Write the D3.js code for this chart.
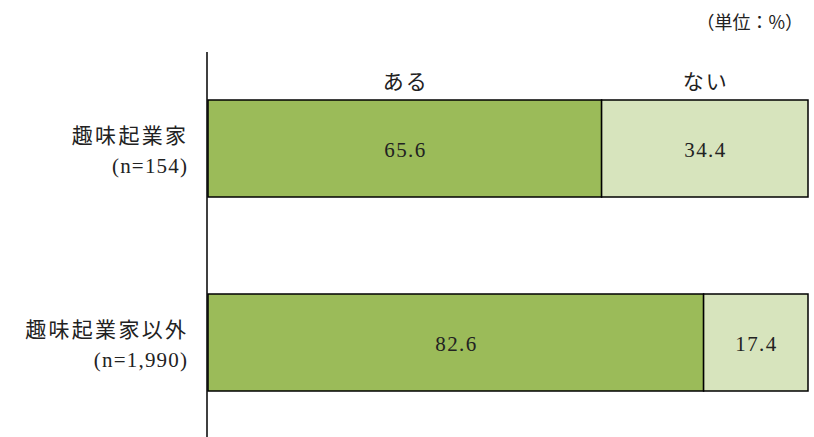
<!DOCTYPE html>
<html><head><meta charset="utf-8">
<script src="https://cdn.jsdelivr.net/npm/d3@7"></script>
<style>body{margin:0;background:#fff}svg{display:block}text{fill:#222}</style>
</head><body>
<script>
const categories = ["趣味起業家", "趣味起業家以外"];
const sampleLabels = ["(n=154)", "(n=1,990)"];
const seriesNames = ["ある", "ない"];
const aruValues = [65.6, 82.6];
const naiValues = [34.4, 17.4];
const colors = ["#9BBB59", "#D7E4BD"];
const unitLabel = "（単位：%）";

const SERIF = "'Liberation Serif', 'Times New Roman', 'Noto Sans CJK JP', serif";
const CJK = "'Noto Sans CJK JP', 'Liberation Serif', sans-serif";

const W = 814, H = 437;
const svg = d3.select("body").append("svg").attr("width", W).attr("height", H);

const x = d3.scaleLinear().domain([0, 100]).range([208, 808]);
const y = d3.scaleBand().domain(categories).range([52, 439])
  .paddingInner(0.5).paddingOuter(48 / 194);
const barH = y.bandwidth();

const rows = categories.map((c, i) => ({cat: c, n: sampleLabels[i], segs: [
  {name: seriesNames[0], v: aruValues[i], x0: 0, color: colors[0]},
  {name: seriesNames[1], v: naiValues[i], x0: aruValues[i], color: colors[1]}
]}));

rows.forEach(r => {
  const top = y(r.cat);
  r.segs.forEach(s => {
    svg.append("rect").attr("x", x(s.x0)).attr("y", top)
      .attr("width", x(s.x0 + s.v) - x(s.x0)).attr("height", barH)
      .attr("fill", s.color).attr("stroke", "#000").attr("stroke-width", 1.5);
    svg.append("text").attr("x", (x(s.x0) + x(s.x0 + s.v)) / 2 + 0.7)
      .attr("y", top + barH / 2 + 8.5).attr("text-anchor", "middle")
      .attr("font-family", SERIF).attr("font-size", 21).attr("letter-spacing", 1.4)
      .text(s.v.toFixed(1));
  });
  svg.append("text").attr("x", 187 + 1.3).attr("y", top + 43)
    .attr("text-anchor", "end").attr("font-family", CJK).attr("font-size", 21)
    .attr("letter-spacing", 2.3).text(r.cat);
  svg.append("text").attr("x", 187 + 1.2).attr("y", top + 73)
    .attr("text-anchor", "end").attr("font-family", SERIF).attr("font-size", 21)
    .attr("letter-spacing", 1.2).text(r.n);
});

// series labels above first bar
rows[0].segs.forEach(s => {
  svg.append("text").attr("x", (x(s.x0) + x(s.x0 + s.v)) / 2 + 1).attr("y", 89)
    .attr("text-anchor", "middle").attr("font-family", CJK).attr("font-size", 21)
    .attr("letter-spacing", 2).text(s.name);
});

// axis line
svg.append("line").attr("x1", 207).attr("x2", 207).attr("y1", 52).attr("y2", 437)
  .attr("stroke", "#000").attr("stroke-width", 1.5);

svg.append("text").attr("x", 803).attr("y", 29).attr("text-anchor", "end")
  .attr("font-family", CJK).attr("font-size", 18).text(unitLabel);
</script>
</body></html>
